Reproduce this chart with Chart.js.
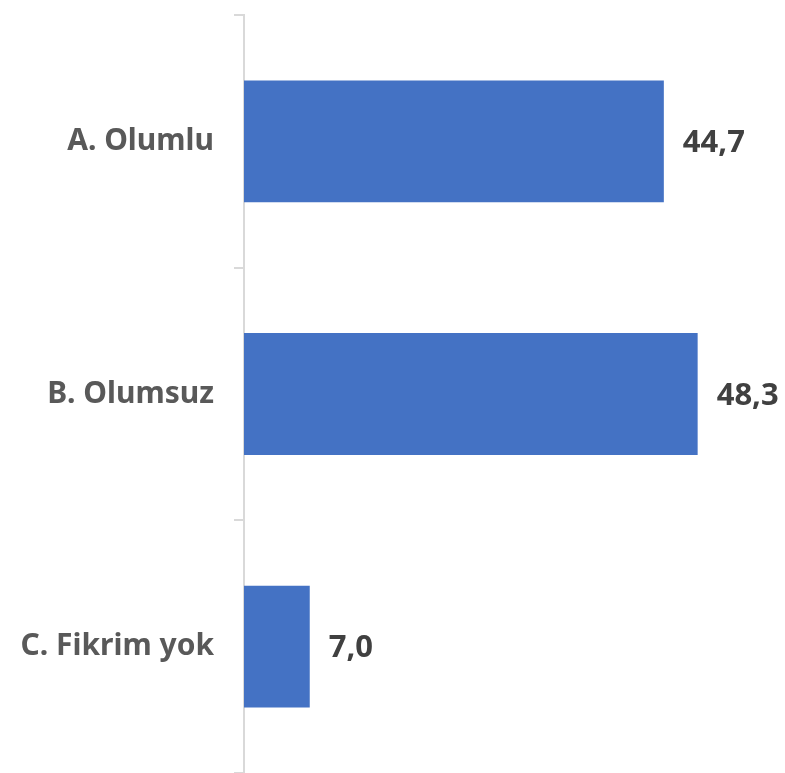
<!DOCTYPE html>
<html>
<head>
<meta charset="utf-8">
<script src="https://cdn.jsdelivr.net/npm/chart.js@4"></script>
<style>
  html, body { margin: 0; padding: 0; background: #fff; }
  #wrap { width: 785px; height: 773px; }
</style>
</head>
<body>
<div id="wrap"><canvas id="barChart"></canvas></div>
<script>
// ----------------------
// DATA
// ----------------------
const categories = ["A. Olumlu", "B. Olumsuz", "C. Fikrim yok"];
const values = [44.7, 48.3, 7.0];

const fontFamily = "'Noto Sans', 'DejaVu Sans', sans-serif";

// value labels at the end of each bar (no datalabels plugin available)
const valueLabels = {
  id: "valueLabels",
  afterDatasetsDraw(chart) {
    const ctx = chart.ctx;
    const meta = chart.getDatasetMeta(0);
    ctx.save();
    ctx.font = "bold 31px " + fontFamily;
    ctx.fillStyle = "#404040";
    ctx.textAlign = "left";
    ctx.textBaseline = "middle";
    meta.data.forEach((bar, i) => {
      const txt = values[i].toFixed(1).replace(".", ",");
      ctx.fillText(txt, bar.x + 19, bar.y + 2);
    });
    ctx.restore();
  }
};

const barCtx = document.getElementById("barChart").getContext("2d");

const barChart = new Chart(barCtx, {
  type: "bar",
  data: {
    labels: categories,
    datasets: [{
      data: values,
      backgroundColor: "#4472c4",
      borderWidth: 0,
      categoryPercentage: 1,
      barPercentage: 0.482
    }]
  },
  options: {
    indexAxis: "y",
    responsive: true,
    maintainAspectRatio: false,
    animation: false,
    layout: { padding: { top: 15, right: 0, bottom: 0, left: 0 } },
    plugins: {
      legend: { display: false },
      tooltip: { enabled: false }
    },
    scales: {
      x: {
        display: false,
        min: 0,
        max: 57.6
      },
      y: {
        afterFit(scale) {
          scale.width = 244;
          // labels sit in the middle of each band, no extra room needed
          scale.paddingTop = 0;
          scale.paddingBottom = 0;
        },
        border: { color: "#d9d9d9", width: 2 },
        grid: {
          drawOnChartArea: false,
          color: "#d9d9d9",
          lineWidth: 2,
          tickLength: 10,
          offset: true
        },
        ticks: {
          color: "#595959",
          padding: 20,
          font: { size: 30, weight: "bold", family: fontFamily }
        }
      }
    }
  },
  plugins: [valueLabels]
});
</script>
</body>
</html>
